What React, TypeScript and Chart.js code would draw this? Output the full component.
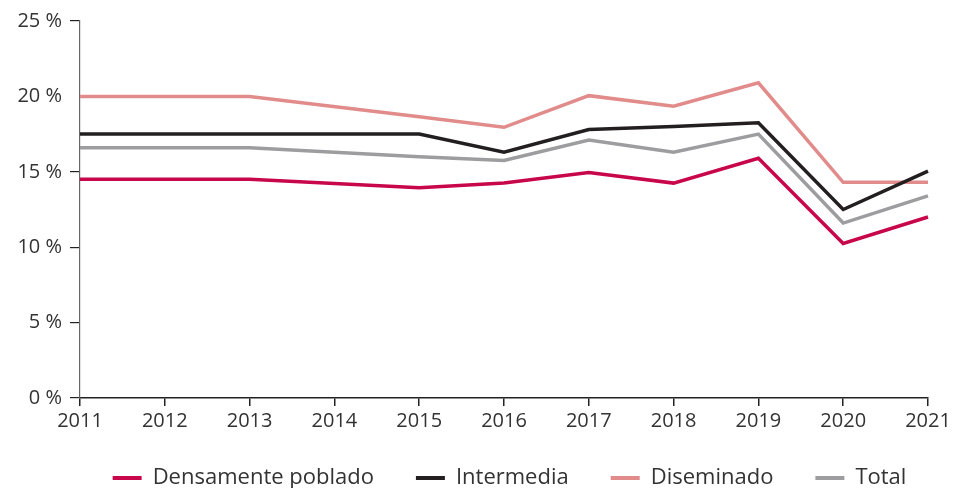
import React, { useEffect, useRef } from "react";
import { Chart, registerables } from "chart.js";

Chart.register(...registerables);

const years = ["2011", "2012", "2013", "2014", "2015", "2016", "2017", "2018", "2019", "2020", "2021"];
const densamente = [14.5, null, 14.5, null, 13.95, 14.25, 14.95, 14.25, 15.9, 10.25, 12.0];
const intermedia = [17.5, null, 17.5, null, 17.5, 16.3, 17.8, 18.0, 18.25, 12.5, 15.05];
const diseminado = [20.0, null, 20.0, null, 18.65, 17.95, 20.05, 19.35, 20.9, 14.3, 14.3];
const total = [16.6, null, 16.6, null, 16.0, 15.75, 17.1, 16.3, 17.5, 11.6, 13.4];
const yTicks = [0, 5, 10, 15, 20, 25];

const seriesNames = ["Densamente poblado", "Intermedia", "Diseminado", "Total"];
const seriesColors = ["#C8074A", "#231F20", "#E28B8B", "#9D9D9F"];

const legendShift = {
  id: "legendShift",
  afterLayout(chart: any) {
    const l = chart.legend;
    if (l) {
      l.left += 32;
      l.right += 32;
      l.top -= 3;
      l.bottom -= 3;
    }
  },
};

export default function App() {
  const ref = useRef<HTMLCanvasElement>(null);
  useEffect(() => {
    if (!ref.current) return;
    const values = [densamente, intermedia, diseminado, total];
    const chart = new Chart(ref.current, {
      type: "line",
      data: {
        labels: years,
        datasets: values.map((v, i) => ({
          label: seriesNames[i],
          data: v,
          borderColor: seriesColors[i],
          backgroundColor: seriesColors[i],
          borderWidth: 3.5,
          pointRadius: 0,
          tension: 0,
          spanGaps: true,
          fill: false,
        })),
      },
      plugins: [legendShift],
      options: {
        responsive: false,
        animation: false,
        layout: { padding: { top: 21, right: 0, left: 0, bottom: -14 } },
        plugins: {
          tooltip: { enabled: false },
          legend: {
            position: "bottom",
            labels: {
              boxWidth: 29,
              boxHeight: 4,
              padding: 42,
              color: "#333",
              font: { family: "Open Sans", size: 22 },
              generateLabels: (c: any) =>
                Chart.defaults.plugins.legend.labels.generateLabels(c).map((l: any) => ({
                  ...l,
                  lineWidth: 0,
                  strokeStyle: "rgba(0,0,0,0)",
                })),
            },
          },
        },
        scales: {
          x: {
            type: "category",
            offset: false,
            afterFit: (s: any) => {
              s.height = 30;
              s.paddingRight = 27;
            },
            border: { color: "#222", width: 1.5 },
            grid: { drawOnChartArea: false, drawTicks: true, tickLength: 8, color: "#222", lineWidth: 1.5 },
            ticks: { color: "#333", padding: 3, maxRotation: 0, autoSkip: false, font: { family: "Open Sans", size: 20 } },
          },
          y: {
            min: 0,
            max: 25,
            afterFit: (s: any) => {
              s.width = 80;
            },
            afterBuildTicks: (s: any) => {
              s.ticks = yTicks.map((v) => ({ value: v }));
            },
            border: { color: "#666", width: 1.2 },
            grid: {
              drawOnChartArea: false,
              drawTicks: true,
              tickLength: 10,
              color: (ctx: any) => (ctx.tick && ctx.tick.value === 20 ? "rgba(0,0,0,0)" : "#222"),
              lineWidth: 1.2,
            },
            ticks: {
              color: "#333",
              padding: 8,
              font: { family: "Open Sans", size: 20 },
              callback: (v: any) => `${v} %`,
            },
          },
        },
      },
    });
    return () => chart.destroy();
  }, []);
  return (
    <div style={{ position: "fixed", left: 0, top: 0, width: 955, height: 488 }}>
      <canvas ref={ref} width={955} height={488} style={{ width: 955, height: 488 }} />
    </div>
  );
}
